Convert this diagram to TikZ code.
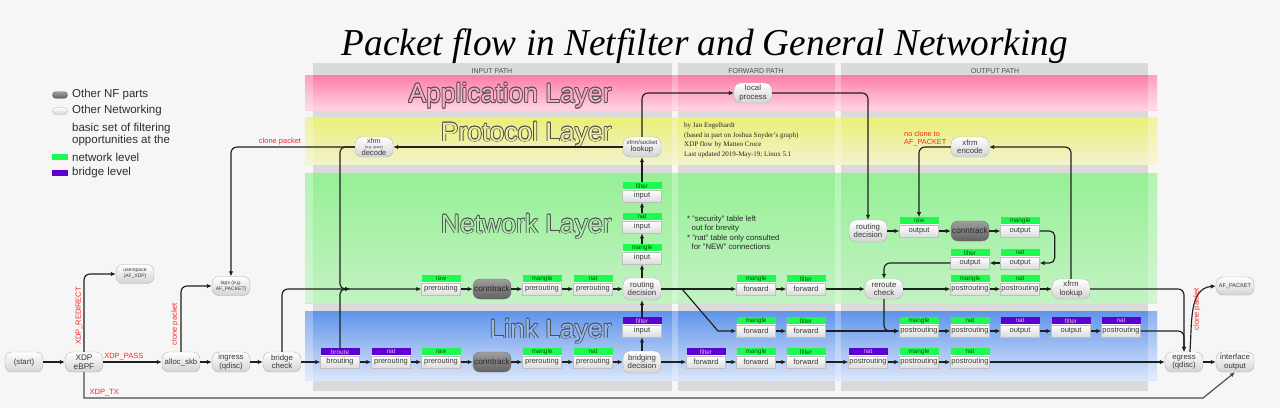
\documentclass[tikz,border=0pt]{standalone}
\usepackage{fontspec}
\usepackage{graphicx}
\setmainfont{Liberation Serif}
\setsansfont{Liberation Sans}
\usetikzlibrary{arrows.meta}
\definecolor{bgc}{RGB}{246,246,246}
\definecolor{colc}{RGB}{218,218,218}
\definecolor{nfgreen}{RGB}{30,250,80}
\definecolor{nfpurple}{RGB}{95,0,210}
\definecolor{lblred}{RGB}{245,40,40}
\definecolor{olc}{RGB}{78,78,78}
\definecolor{appfill}{RGB}{255,170,198}
\definecolor{protfill}{RGB}{238,238,160}
\definecolor{netfill}{RGB}{172,238,172}
\definecolor{linkfill}{RGB}{150,186,238}
\newbox\oltbox
\newcommand\oltcopy[2]{\makebox[0pt][l]{\kern#1\raisebox{#2}{\copy\oltbox}}}
\newcommand\outlinetxt[2]{\setbox\oltbox\hbox{#2}{\color{olc}\oltcopy{-.75pt}{0pt}\oltcopy{.75pt}{0pt}\oltcopy{0pt}{.75pt}\oltcopy{0pt}{-.75pt}\oltcopy{-.53pt}{-.53pt}\oltcopy{.53pt}{.53pt}\oltcopy{-.53pt}{.53pt}\oltcopy{.53pt}{-.53pt}}{\color{#1}\copy\oltbox}}
\newcommand\tb[6]{%
  \node[tbody] (#1) at (#2,#3) {#5};
  \node[thead,#6,anchor=south] (#1h) at (#1.north) {#4};}
\begin{document}
\begin{tikzpicture}[x=1pt,y=-1pt,
  pill/.style={rectangle, rounded corners=7pt, draw=black!30, top color=white, bottom color=black!17, minimum width=38pt, minimum height=20pt, inner sep=0.5pt, align=center, font=\sffamily\fontsize{7.8}{8.4}\selectfont, text=black!78},
  nfpill/.style={pill, top color=black!38, bottom color=black!62, draw=black!55, text=black!85, font=\sffamily\fontsize{8.2}{8.4}\selectfont},
  tbody/.style={rectangle, draw=black!25, top color=white, bottom color=black!14, minimum width=39pt, minimum height=12.5pt, inner sep=0pt, font=\sffamily\fontsize{7.5}{7.5}\selectfont, text=black!78},
  thead/.style={rectangle, minimum width=39pt, minimum height=7pt, inner sep=0pt, font=\sffamily\fontsize{6.4}{6.4}\selectfont},
  grn/.style={fill=nfgreen, text=green!35!black},
  pur/.style={fill=nfpurple, text=violet!25!white},
  arr/.style={draw=black!88, line width=1.15pt, -{Latex[length=5pt,width=4.5pt]}},
  lbl/.style={text=lblred, font=\sffamily\fontsize{7.5}{7.5}\selectfont, inner sep=0.5pt},
  leg/.style={font=\sffamily\fontsize{11.5}{9.5}\selectfont, text=black!82, inner sep=0pt, anchor=west, align=left},
  layer/.style={font=\sffamily\fontsize{26.5}{26.5}\selectfont, inner sep=0pt, anchor=base east},
  colhead/.style={font=\sffamily\fontsize{7}{7}\selectfont, text=black!70, inner sep=0pt},
]
% background
\fill[bgc] (0,0) rectangle (1280,408);
\useasboundingbox (0,0) rectangle (1280,408);
% path columns
\fill[colc] (313,63) rectangle (672,391);
\fill[colc] (678,63) rectangle (835,391);
\fill[colc] (841,63) rectangle (1148,391);
% layer bands
\shade[top color={rgb,255:red,252;green,125;blue,168}, bottom color={rgb,255:red,255;green,212;blue,226}] (305,75) rectangle (1157,110);
\shade[top color={rgb,255:red,234;green,240;blue,118}, bottom color={rgb,255:red,242;green,242;blue,205}] (305,117) rectangle (1157,164);
\shade[top color={rgb,255:red,150;green,240;blue,150}, bottom color={rgb,255:red,195;green,242;blue,195}] (305,173) rectangle (1157,303);
\shade[top color={rgb,255:red,95;green,148;blue,235}, bottom color={rgb,255:red,218;green,230;blue,250}] (305,311) rectangle (1157,380);
% column gaps seen through bands
\foreach \a/\b in {305/313, 672/678, 835/841, 1148/1157}{
  \fill[white, opacity=0.28] (\a,75) rectangle (\b,110);
  \fill[white, opacity=0.28] (\a,117) rectangle (\b,164);
  \fill[white, opacity=0.28] (\a,173) rectangle (\b,303);
  \fill[white, opacity=0.28] (\a,311) rectangle (\b,380);
}
% column headers
\node[colhead] (hin) at (492,71) {INPUT PATH};
\node[colhead] (hfw) at (756,71) {FORWARD PATH};
\node[colhead] (hout) at (995,71) {OUTPUT PATH};
% layer titles
\node[layer] (lapp) at (612,102.5) {\outlinetxt{appfill}{Application Layer}};
\node[layer] (lprot) at (612,141) {\outlinetxt{protfill}{Protocol Layer}};
\node[layer] (lnet) at (612,233) {\outlinetxt{netfill}{Network Layer}};
\node[layer] (llink) at (612,338) {\outlinetxt{linkfill}{Link Layer}};
% title
\node[font=\fontsize{38}{40}\selectfont\itshape, anchor=base, inner sep=0pt] (title) at (705,55) {\resizebox{726pt}{\height}{Packet flow in Netfilter and General Networking}};
% legend
\node[nfpill, minimum width=15pt, minimum height=6.5pt, rounded corners=3pt, inner sep=0pt] (lgnf) at (60,95) {};
\node[pill, minimum width=15pt, minimum height=6.5pt, rounded corners=3pt, inner sep=0pt] (lgon) at (60,111) {};
\node[rectangle, fill=nfgreen, minimum width=16pt, minimum height=6.5pt, inner sep=0pt] (lgnet) at (60,157) {};
\node[rectangle, fill=nfpurple, minimum width=16pt, minimum height=6.5pt, inner sep=0pt] (lgbr) at (60,173) {};
\node[leg] (tnf) at (72,95) {Other NF parts};
\node[leg] (ton) at (72,111) {Other Networking};
\node[leg] (tbas) at (72,134.5) {basic set of filtering\\opportunities at the};
\node[leg] (tnet) at (72,157) {network level};
\node[leg] (tbr) at (72,173) {bridge level};
% notes
\node[anchor=north west, align=left, inner sep=0pt, font=\fontsize{7}{9.7}\selectfont, text=black!85] (credits) at (684,122.5) {by Jan Engelhardt\\(based in part on Joshua Snyder's graph)\\XDP flow by Matteo Croce\\Last updated 2019-May-19; Linux 5.1};
\node[anchor=north west, align=left, inner sep=0pt, font=\sffamily\fontsize{7.8}{9.4}\selectfont, text=black!85] (notes) at (687,215.5) {* "security" table left\\\hspace*{4.5pt}out for brevity\\* "nat" table only consulted\\\hspace*{4.5pt}for "NEW" connections};
\node[anchor=north west, align=left, inner sep=0pt, font=\sffamily\fontsize{7.3}{7.6}\selectfont, text={rgb,255:red,250;green,40;blue,10}] (noclone) at (904,131) {no clone to\\AF\_PACKET};
% ---------- nodes: left area
\node[pill] (start) at (24,362) {(start)};
\node[pill, font=\sffamily\fontsize{8.2}{8.6}\selectfont] (xdp) at (84,362) {XDP\\eBPF};
\node[pill, minimum height=19pt, font=\sffamily\fontsize{5}{6}\selectfont] (afxdp) at (135,274) {userspace\\(AF\_XDP)};
\node[pill] (alloc) at (181,362) {alloc\_skb};
\node[pill] (ingress) at (231,362) {ingress\\(qdisc)};
\node[pill] (bcheck) at (282,362) {bridge\\check};
\node[pill, minimum height=19pt, font=\sffamily\fontsize{5}{6}\selectfont] (taps) at (231,286) {taps (e.g.\\AF\_PACKET)};
% ---------- input path
\node[pill, font=\sffamily\fontsize{7}{5}\selectfont] (xfrmdec) at (374,147) {xfrm\\{\fontsize{3.6}{4}\selectfont (e.g. ipsec)}\\{\fontsize{7.6}{7}\selectfont decode}};
\node[pill, font=\sffamily\fontsize{6}{7}\selectfont] (sock) at (642,147) {xfrm/socket\\{\fontsize{7.6}{7}\selectfont lookup}};
\node[pill] (local) at (753,93) {local\\process};
\tb{rawpre}{441}{289}{raw}{prerouting}{grn}
\node[nfpill] (ct1) at (492,289) {conntrack};
\tb{manglepre}{542}{289}{mangle}{prerouting}{grn}
\tb{natpre}{593}{289}{nat}{prerouting}{grn}
\node[pill, minimum height=22pt] (rd1) at (642,289) {routing\\decision};
\tb{mangin}{642}{258}{mangle}{input}{grn}
\tb{natin}{642}{227}{nat}{input}{grn}
\tb{filtin}{642}{196}{filter}{input}{grn}
\tb{filtinbr}{642}{331}{filter}{input}{pur}
\tb{broute}{340}{362}{broute}{brouting}{pur}
\tb{brnatpre}{391}{362}{nat}{prerouting}{pur}
\tb{rawpreL}{441}{362}{raw}{prerouting}{grn}
\node[nfpill] (ct2) at (492,362) {conntrack};
\tb{manglepreL}{542}{362}{mangle}{prerouting}{grn}
\tb{natpreL}{593}{362}{nat}{prerouting}{grn}
\node[pill, minimum height=22pt] (bd) at (642,362) {bridging\\decision};
% ---------- forward path
\tb{mfwd}{756}{289}{mangle}{forward}{grn}
\tb{ffwd}{806}{289}{filter}{forward}{grn}
\tb{mfwdL}{756}{331}{mangle}{forward}{grn}
\tb{ffwdL}{806}{331}{filter}{forward}{grn}
\tb{filtfwdbr}{706}{362}{filter}{forward}{pur}
\tb{mfwd2}{756}{362}{mangle}{forward}{grn}
\tb{ffwd2}{806}{362}{filter}{forward}{grn}
% ---------- output path
\node[pill, minimum height=22pt] (rd2) at (868,231) {routing\\decision};
\tb{rawout}{919}{231}{raw}{output}{grn}
\node[nfpill] (ct3) at (970,231) {conntrack};
\tb{mangout}{1020}{231}{mangle}{output}{grn}
\tb{natout}{1020}{263}{nat}{output}{grn}
\tb{filtout}{970}{263}{filter}{output}{grn}
\node[pill] (xenc) at (970,147) {xfrm\\encode};
\node[pill] (reroute) at (884,289) {reroute\\check};
\tb{mpostN}{970}{289}{mangle}{postrouting}{grn}
\tb{natpostN}{1020}{289}{nat}{postrouting}{grn}
\node[pill] (xlook) at (1071,289) {xfrm\\lookup};
\tb{mpostL}{919}{331}{mangle}{postrouting}{grn}
\tb{natpostL}{970}{331}{nat}{postrouting}{grn}
\tb{natoutbr}{1020}{331}{nat}{output}{pur}
\tb{filtoutbr}{1071}{331}{filter}{output}{pur}
\tb{natpostbr2}{1121}{331}{nat}{postrouting}{pur}
\tb{natpostbr}{868}{362}{nat}{postrouting}{pur}
\tb{mpost2}{919}{362}{mangle}{postrouting}{grn}
\tb{natpost2}{970}{362}{nat}{postrouting}{grn}
\node[pill] (egress) at (1184,362) {egress\\(qdisc)};
\node[pill] (iface) at (1235,362) {interface\\output};
\node[pill, minimum height=18pt, font=\sffamily\fontsize{5.6}{6}\selectfont] (afp) at (1235,286) {AF\_PACKET};
\coordinate (jc) at (340,289);
\coordinate (jn) at (350,289);
% ---------- connectors
\draw[arr] (start) -- (xdp);
\draw[arr] (xdp.east) -- (alloc.west) node[lbl, pos=0, anchor=south west, yshift=1pt] (lpass) {XDP\_PASS};
\draw[arr, rounded corners=6pt] (xdp.north) |- (afxdp.west);
\node[lbl, rotate=90] (lredir) at (79,316) {XDP\_REDIRECT};
\draw[arr, draw=black!70] (xdp.south) -- (84,398) -- (1203,398) -- (iface.south);
\node[lbl, anchor=west] (ltx) at (89,392.5) {XDP\_TX};
\draw[arr, rounded corners=6pt] (alloc.north) |- (taps.west);
\node[lbl, rotate=90] (lclone1) at (175,324) {clone packet};
\draw[arr] (alloc) -- (ingress);
\draw[arr] (ingress) -- (bcheck);
\draw[arr] (bcheck) -- (broute);
\draw[arr, rounded corners=6pt] (bcheck.north) |- (rawpre.west);
\draw[arr, rounded corners=6pt] (xfrmdec.west) -| (taps.north);
\node[lbl] (lclone2) at (280,141.5) {clone packet};
\draw[arr, rounded corners=5pt] (xfrmdec.west) -| (jc) -- (jn);
\draw[arr, rounded corners=5pt] (brouteh.north) |- (jn);
\draw[arr] (sock) -- (xfrmdec);
\draw[arr] (rawpre) -- (ct1);
\draw[arr] (ct1) -- (manglepre);
\draw[arr] (manglepre) -- (natpre);
\draw[arr] (natpre) -- (rd1);
\draw[arr] (rd1) -- (mangin);
\draw[arr] (manginh) -- (natin);
\draw[arr] (natinh) -- (filtin);
\draw[arr] (filtinh) -- (sock);
\draw[arr, rounded corners=6pt] (sock.north) |- (local.west);
\draw[arr, rounded corners=6pt] (local.east) -| (rd2.north);
\draw[arr] (broute) -- (brnatpre);
\draw[arr] (brnatpre) -- (rawpreL);
\draw[arr] (rawpreL) -- (ct2);
\draw[arr] (ct2) -- (manglepreL);
\draw[arr] (manglepreL) -- (natpreL);
\draw[arr] (natpreL) -- (bd);
\draw[arr] (bd) -- (filtinbr);
\draw[arr] (filtinbrh) -- (rd1);
\draw[arr] (rd1) -- (mfwd);
\draw[arr] (rd1.east) -- (682,289) -- (718,331) -- (mfwdL.west);
\draw[arr] (mfwd) -- (ffwd);
\draw[arr] (ffwd) -- (reroute);
\draw[arr] (mfwdL) -- (ffwdL);
\draw[arr] (ffwdL) -- (mpostL);
\draw[arr] (bd) -- (filtfwdbr);
\draw[arr] (filtfwdbr) -- (mfwd2);
\draw[arr] (mfwd2) -- (ffwd2);
\draw[arr] (ffwd2) -- (natpostbr);
\draw[arr] (natpostbr) -- (mpost2);
\draw[arr] (mpost2) -- (natpost2);
\draw[arr] (natpost2) -- (egress);
\draw[arr] (rd2) -- (rawout);
\draw[arr] (rawout) -- (ct3);
\draw[arr] (ct3) -- (mangout);
\draw[arr, rounded corners=5pt] (mangout.east) -- ++(15,0) |- (natout.east);
\draw[arr] (natout) -- (filtout);
\draw[arr, rounded corners=6pt] (filtout.west) -| (reroute.north);
\draw[arr, rounded corners=6pt] (xenc.west) -| (rawouth.north);
\draw[arr, rounded corners=6pt] (xlook.north) |- (xenc.east);
\draw[arr] (reroute) -- (mpostN);
\draw[arr] (mpostN) -- (natpostN);
\draw[arr] (natpostN) -- (xlook);
\draw[arr, rounded corners=6pt] (xlook.east) -| (egress.north);
\draw[arr, rounded corners=5pt] (reroute.south) |- (mpostL.west);
\draw[arr] (mpostL) -- (natpostL);
\draw[arr] (natpostL) -- (natoutbr);
\draw[arr] (natoutbr) -- (filtoutbr);
\draw[arr] (filtoutbr) -- (natpostbr2);
\draw[arr, rounded corners=6pt] (natpostbr2.east) -| (egress.north);
\draw[arr] (egress) -- (iface);
\draw[arr] (egress.60) to[out=85,in=185] (afp.west);
\node[lbl, rotate=90] (lclone3) at (1197,309) {clone packet};
\end{tikzpicture}
\end{document}
